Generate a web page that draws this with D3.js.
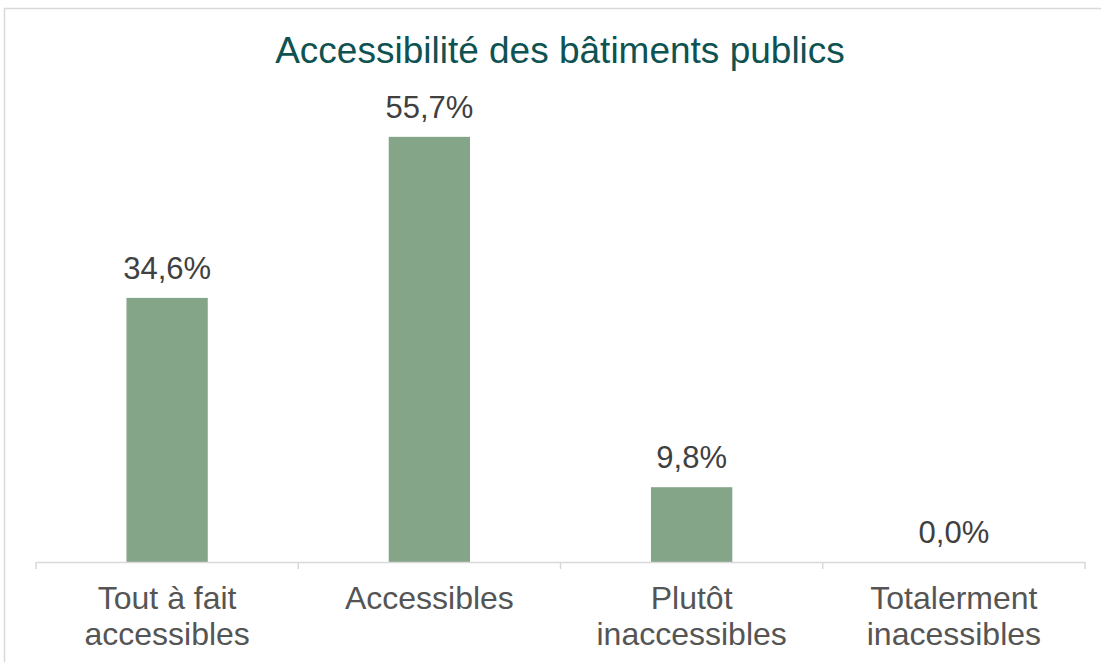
<!DOCTYPE html>
<html>
<head>
<meta charset="utf-8">
<script src="https://cdn.jsdelivr.net/npm/d3@7"></script>
<style>
  body { margin: 0; background: #fff; }
  text { font-family: "Liberation Sans", Arial, sans-serif; }
</style>
</head>
<body>
<svg id="chart"></svg>
<script>
// data
var categories = ["Tout à fait|accessibles", "Accessibles", "Plutôt|inaccessibles", "Totalerment|inacessibles"],
    values = [34.6, 55.7, 9.8, 0.0],
    title = "Accessibilité des bâtiments publics";

var width = 1101, height = 662,
    left = 36, right = 1085, baseY = 562, topY = 104,
    barColor = "#85a589",
    textColor = "#404040";

var svg = d3.select("#chart").attr("width", width).attr("height", height);

// outer frame (top + left only visible)
svg.append("path")
    .attr("d", "M4.5,662 V8.5 H1101")
    .attr("fill", "none")
    .attr("stroke", "#d9d9d9")
    .attr("stroke-width", 1.5);

svg.append("text")
    .attr("x", 560)
    .attr("y", 63)
    .attr("text-anchor", "middle")
    .attr("font-size", 37)
    .attr("fill", "#0e5252")
    .text(title);

var x = d3.scaleBand()
    .domain(categories)
    .range([left, right])
    .paddingInner(0.69)
    .paddingOuter(0.345);

var y = d3.scaleLinear()
    .domain([0, 60])
    .range([baseY, topY]);

svg.selectAll(".bar")
    .data(values)
    .enter()
    .append("rect")
    .attr("class", "bar")
    .attr("x", function(d, i) { return x(categories[i]); })
    .attr("width", x.bandwidth())
    .attr("y", function(d) { return y(d); })
    .attr("height", function(d) { return baseY - y(d); })
    .attr("fill", barColor);

svg.selectAll(".val")
    .data(values)
    .enter()
    .append("text")
    .attr("class", "val")
    .attr("x", function(d, i) { return x(categories[i]) + x.bandwidth() / 2; })
    .attr("y", function(d) { return y(d) - 19; })
    .attr("text-anchor", "middle")
    .attr("font-size", 31)
    .attr("fill", textColor)
    .text(function(d) { return d.toFixed(1).replace(".", ",") + "%"; });

// axis line and ticks between categories
var step = (right - left) / categories.length;
svg.append("line")
    .attr("x1", left).attr("x2", right)
    .attr("y1", baseY + 0.5).attr("y2", baseY + 0.5)
    .attr("stroke", "#d9d9d9").attr("stroke-width", 1.5);

svg.selectAll(".tick")
    .data(d3.range(categories.length + 1))
    .enter()
    .append("line")
    .attr("class", "tick")
    .attr("x1", function(i) { return left + i * step; })
    .attr("x2", function(i) { return left + i * step; })
    .attr("y1", baseY)
    .attr("y2", baseY + 7)
    .attr("stroke", "#d9d9d9").attr("stroke-width", 1.5);

var labels = svg.selectAll(".cat")
    .data(categories)
    .enter()
    .append("text")
    .attr("class", "cat")
    .attr("text-anchor", "middle")
    .attr("font-size", 32)
    .attr("fill", "#555555")
    .attr("transform", function(d) { return "translate(" + (x(d) + x.bandwidth() / 2) + ",0)"; });

labels.selectAll("tspan")
    .data(function(d) { return d.split("|"); })
    .enter()
    .append("tspan")
    .attr("x", 0)
    .attr("y", function(d, i) { return 609 + i * 36; })
    .text(function(d) { return d; });
</script>
</body>
</html>
